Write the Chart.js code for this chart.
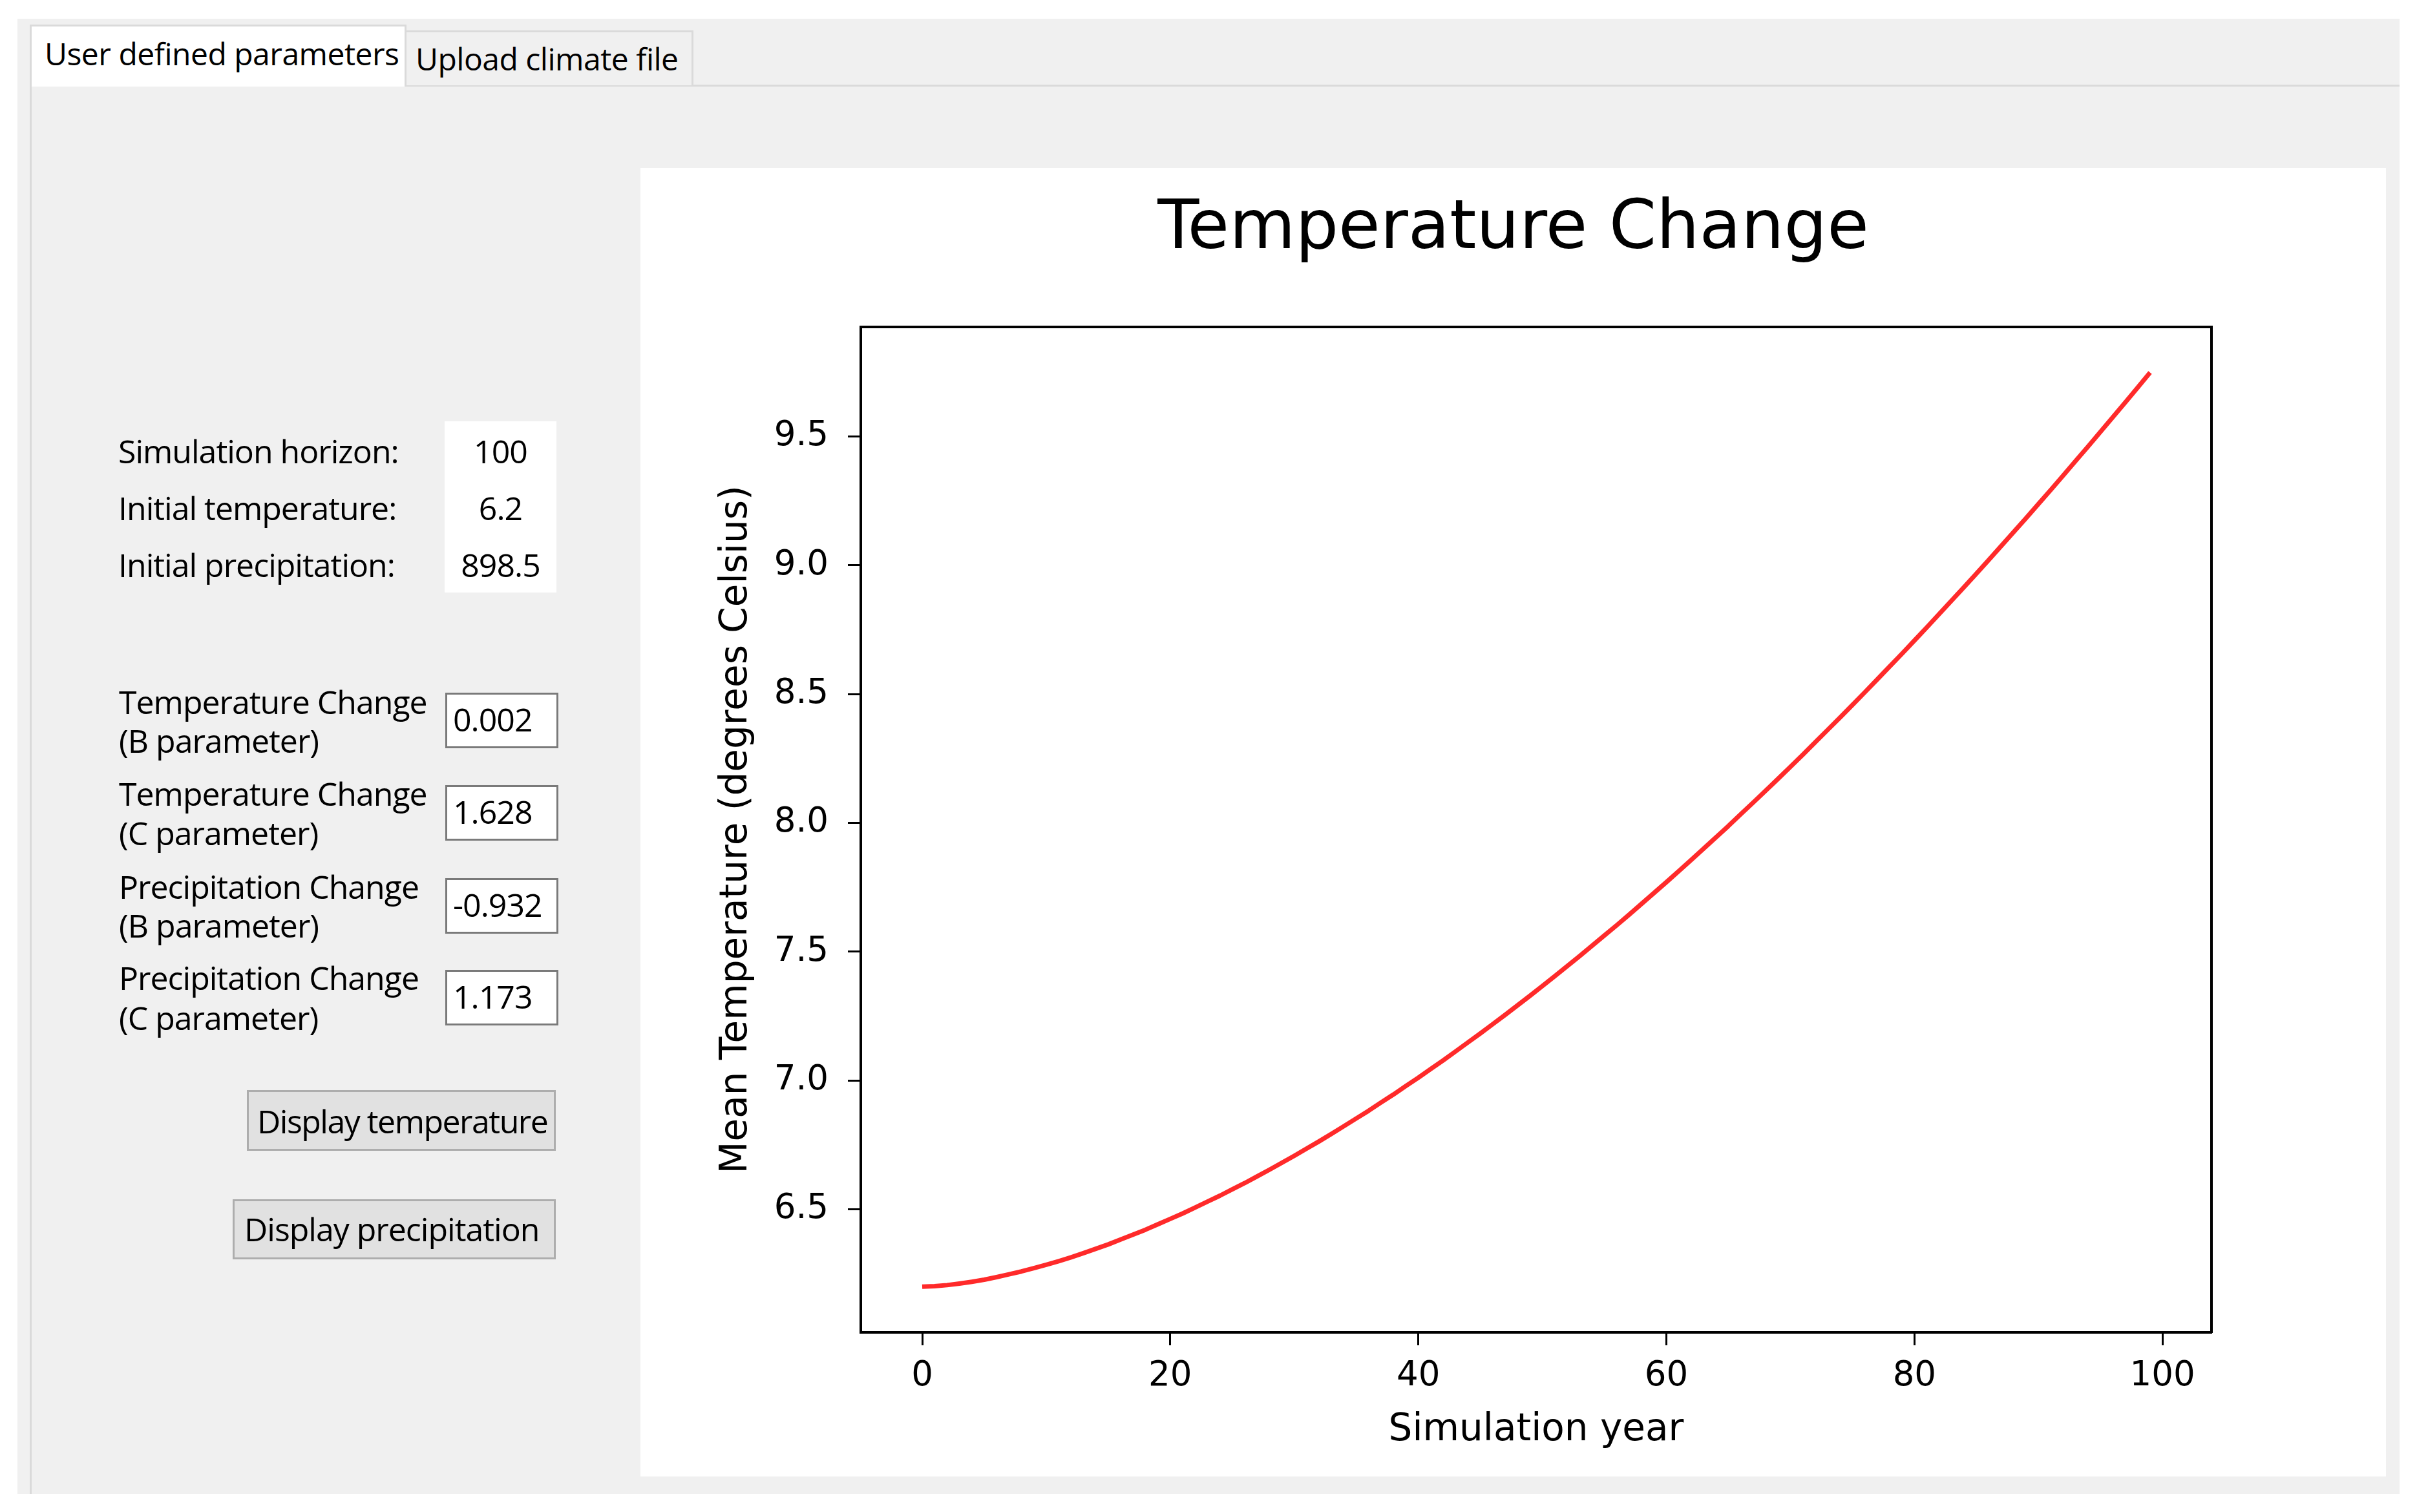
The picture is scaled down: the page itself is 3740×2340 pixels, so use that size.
<!DOCTYPE html>
<html>
<head>
<meta charset="utf-8">
<title>Temperature Change</title>
<script src="https://cdn.jsdelivr.net/npm/chart.js@4.4.1/dist/chart.umd.min.js"></script>
<style>
html, body { margin: 0; padding: 0; background: #fff; }
body { width: 3740px; height: 2340px; position: relative; overflow: hidden;
       font-family: "Open Sans", "Noto Sans", sans-serif; color: #000; }
.abs { position: absolute; box-sizing: border-box; }
.txt { position: absolute; white-space: nowrap; line-height: 1; font-size: 50px; letter-spacing: -1px; }
.tabtxt { font-size: 48px; letter-spacing: -0.5px; }

#window { left: 27px; top: 29px; width: 3686px; height: 2283px; background: #f0f0f0; }
#pane { left: 46px; top: 131px; width: 3667px; height: 2181px; border-left: 3px solid #dadada; border-top: 3px solid #dadada; }
#tab1 { left: 46px; top: 38px; width: 583px; height: 96px; background: #fff; border: 3px solid #dadada; border-bottom: none; }
#tab2 { left: 629px; top: 47px; width: 444px; height: 85px; background: #f0f0f0; border: 3px solid #dadada; border-bottom: none; border-left: none; }

#valueBox { left: 688px; top: 652px; width: 173px; height: 265px; background: #fff; }
.val { width: 173px; text-align: center; left: 0; }

.input { left: 689px; width: 175px; height: 86px; background: #fff; border: 3px solid #7a7a7a; }
.input .txt { left: 9px; top: 13px; }

.btn { background: #e1e1e1; border: 3px solid #adadad; }

#chartPanel { left: 991px; top: 260px; width: 2701px; height: 2025px; background: #fff; }
#chartPanel canvas { display: block; }
</style>
</head>
<body>

<div class="abs" id="window"></div>
<div class="abs" id="pane"></div>
<div class="abs" id="tab1"></div>
<div class="abs" id="tab2"></div>
<div class="txt tabtxt" style="left:69px; top:59px;">User defined parameters</div>
<div class="txt tabtxt" style="left:643px; top:67px;">Upload climate file</div>

<!-- fixed settings -->
<div class="txt" style="left:183px; top:673px;">Simulation horizon:</div>
<div class="txt" style="left:183px; top:761px;">Initial temperature:</div>
<div class="txt" style="left:183px; top:849px;">Initial precipitation:</div>
<div class="abs" id="valueBox">
  <div class="txt val" style="top:21px;">100</div>
  <div class="txt val" style="top:109px;">6.2</div>
  <div class="txt val" style="top:197px;">898.5</div>
</div>

<!-- change parameters -->
<div class="txt" style="left:184px; top:1061px;">Temperature Change</div>
<div class="txt" style="left:184px; top:1121px;">(B parameter)</div>
<div class="txt" style="left:184px; top:1203px;">Temperature Change</div>
<div class="txt" style="left:184px; top:1264px;">(C parameter)</div>
<div class="txt" style="left:184px; top:1347px;">Precipitation Change</div>
<div class="txt" style="left:184px; top:1407px;">(B parameter)</div>
<div class="txt" style="left:184px; top:1488px;">Precipitation Change</div>
<div class="txt" style="left:184px; top:1550px;">(C parameter)</div>

<div class="abs input" style="top:1072px;"><div class="txt">0.002</div></div>
<div class="abs input" style="top:1215px;"><div class="txt">1.628</div></div>
<div class="abs input" style="top:1359px;"><div class="txt">-0.932</div></div>
<div class="abs input" style="top:1501px;"><div class="txt">1.173</div></div>

<div class="abs btn" style="left:382px; top:1687px; width:478px; height:94px;">
  <div class="txt" style="left:13px; top:20px; letter-spacing:-1.5px;">Display temperature</div>
</div>
<div class="abs btn" style="left:360px; top:1856px; width:500px; height:93px;">
  <div class="txt" style="left:15px; top:18px;">Display precipitation</div>
</div>

<div class="abs" id="chartPanel">
  <canvas id="tempChart" width="2701" height="2025"></canvas>
</div>

<script>
/* Data */
const years = [
  0, 1, 2, 3, 4, 5, 6, 7, 8, 9,
  10, 11, 12, 13, 14, 15, 16, 17, 18, 19,
  20, 21, 22, 23, 24, 25, 26, 27, 28, 29,
  30, 31, 32, 33, 34, 35, 36, 37, 38, 39,
  40, 41, 42, 43, 44, 45, 46, 47, 48, 49,
  50, 51, 52, 53, 54, 55, 56, 57, 58, 59,
  60, 61, 62, 63, 64, 65, 66, 67, 68, 69,
  70, 71, 72, 73, 74, 75, 76, 77, 78, 79,
  80, 81, 82, 83, 84, 85, 86, 87, 88, 89,
  90, 91, 92, 93, 94, 95, 96, 97, 98, 99
];
const meanTemp = [
  6.200, 6.202, 6.206, 6.212, 6.219, 6.227, 6.237, 6.248, 6.259, 6.272,
  6.285, 6.299, 6.314, 6.330, 6.347, 6.364, 6.383, 6.402, 6.421, 6.442,
  6.463, 6.484, 6.507, 6.530, 6.553, 6.578, 6.602, 6.628, 6.654, 6.681,
  6.708, 6.736, 6.764, 6.793, 6.823, 6.853, 6.883, 6.915, 6.946, 6.979,
  7.011, 7.045, 7.078, 7.113, 7.148, 7.183, 7.219, 7.255, 7.292, 7.329,
  7.367, 7.405, 7.444, 7.483, 7.523, 7.563, 7.603, 7.644, 7.686, 7.728,
  7.770, 7.813, 7.856, 7.900, 7.944, 7.988, 8.034, 8.079, 8.125, 8.171,
  8.218, 8.265, 8.313, 8.361, 8.409, 8.458, 8.507, 8.557, 8.607, 8.657,
  8.708, 8.759, 8.811, 8.863, 8.915, 8.968, 9.021, 9.075, 9.129, 9.183,
  9.238, 9.293, 9.349, 9.405, 9.461, 9.518, 9.575, 9.632, 9.690, 9.748
];
const xTicks = [0, 20, 40, 60, 80, 100];
const yTicks = [6.5, 7.0, 7.5, 8.0, 8.5, 9.0, 9.5];
const xRange = [-4.95, 103.95];
const yRange = [6.0226, 9.925];

const chartTitle = "Temperature Change";
const xTitle = "Simulation year";
const yTitle = "Mean Temperature (degrees Celsius)";

/* Styles */
const FONT = "'DejaVu Sans', sans-serif";
const BLACK = "#000";
const tickGrid = { display: true, drawOnChartArea: false, drawTicks: true, tickLength: 20, tickWidth: 3, tickColor: BLACK };
const spine = { display: true, color: BLACK, width: 4 };
const tickFont = { family: FONT, size: 53 };
const labelFont = { family: FONT, size: 58, lineHeight: 1.2 };

/* Chart */
new Chart(document.getElementById("tempChart"), {
  type: "line",
  data: {
    datasets: [{
      data: years.map((yr, i) => ({ x: yr, y: meanTemp[i] })),
      borderColor: "#ff2a2a",
      borderWidth: 7,
      borderJoinStyle: "round",
      pointRadius: 0,
      tension: 0,
      fill: false
    }]
  },
  options: {
    responsive: false,
    animation: false,
    devicePixelRatio: 1,
    layout: { padding: 0 },
    plugins: {
      legend: { display: false },
      tooltip: { enabled: false },
      title: {
        display: true,
        text: chartTitle,
        color: BLACK,
        font: { family: FONT, size: 105, weight: "normal", lineHeight: 1.2 },
        padding: { top: 34, bottom: 86 }
      }
    },
    scales: {
      x: {
        type: "linear", position: "bottom", bounds: "data",
        min: xRange[0], max: xRange[1],
        afterBuildTicks: s => { s.ticks = xTicks.map(v => ({ value: v })); },
        afterFit: s => { s.height = 223; },
        ticks: { color: BLACK, font: tickFont, padding: 16, maxRotation: 0, autoSkip: false, callback: v => String(v) },
        grid: tickGrid,
        border: spine,
        title: { display: true, text: xTitle, color: BLACK, font: labelFont, padding: { top: 0, bottom: 36 } }
      },
      y: {
        type: "linear", position: "left", bounds: "data",
        min: yRange[0], max: yRange[1],
        afterBuildTicks: s => { s.ticks = yTicks.map(v => ({ value: v })); },
        afterFit: s => { s.width = 341; },
        ticks: { color: BLACK, font: tickFont, padding: 30, autoSkip: false, callback: v => v.toFixed(1) },
        grid: tickGrid,
        border: spine,
        title: { display: true, text: yTitle, color: BLACK, font: labelFont, padding: { top: 114, bottom: 0 } }
      },
      // top and right spines of the frame
      x2: {
        type: "linear", position: "top", min: 0, max: 1,
        ticks: { display: false }, grid: { display: false }, border: spine,
        afterFit: s => { s.height = 0; }
      },
      y2: {
        type: "linear", position: "right", min: 0, max: 1,
        ticks: { display: false }, grid: { display: false }, border: spine,
        afterFit: s => { s.width = 270; }
      }
    }
  }
});
</script>
</body>
</html>
